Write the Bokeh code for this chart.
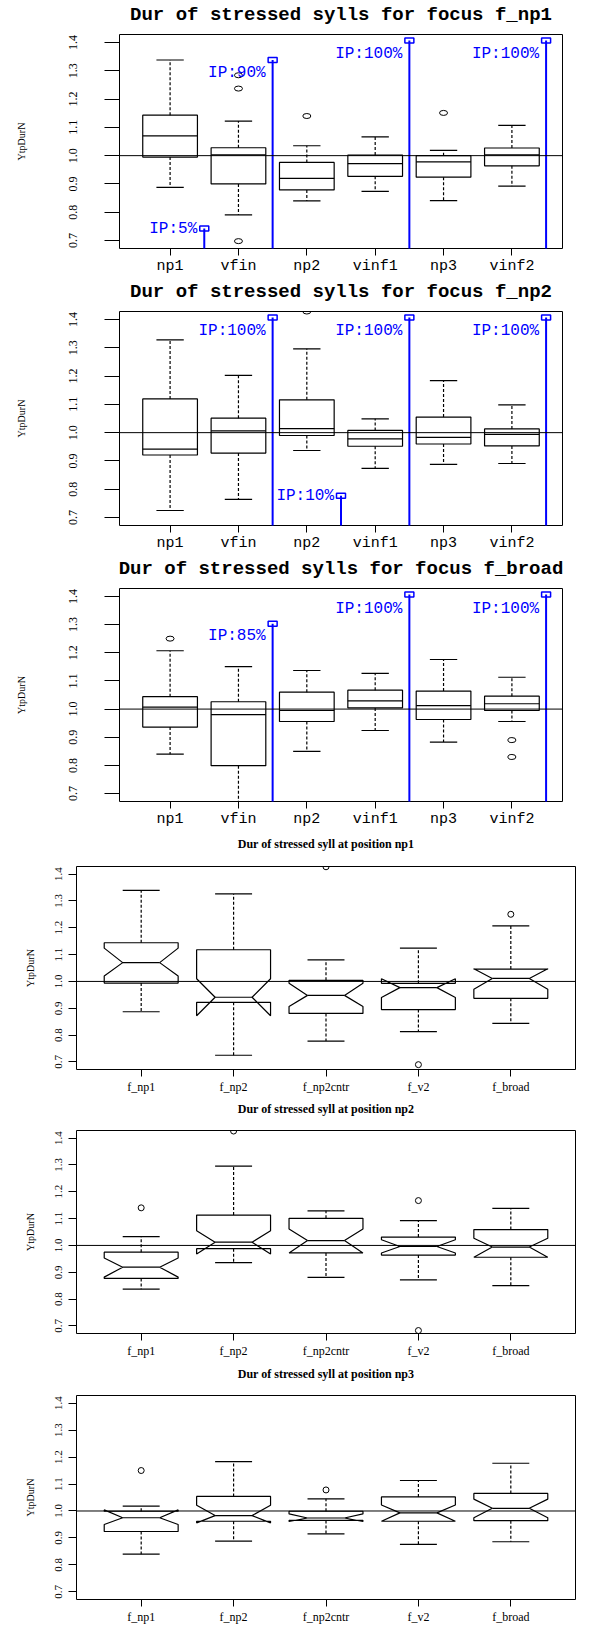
import math
from bokeh.plotting import figure
from bokeh.models import Span, FixedTicker, PrintfTickFormatter, LinearAxis
from bokeh.core.properties import value
from bokeh.embed import file_html
from bokeh.resources import INLINE

# ---------------- data ----------------
positions = ["np1", "vfin", "np2", "vinf1", "np3", "vinf2"]
focuses = ["f_np1", "f_np2", "f_np2cntr", "f_v2", "f_broad"]
y_ticks = [0.7, 0.8, 0.9, 1.0, 1.1, 1.2, 1.3, 1.4]

# focus f_np1 (by position)
fnp1_hi = [1.338, 1.122, 1.035, 1.066, 1.019, 1.107]
fnp1_q3 = [1.143, 1.028, 0.976, 1.002, 1.000, 1.027]
fnp1_med = [1.070, 1.003, 0.920, 0.972, 0.978, 1.003]
fnp1_q1 = [0.995, 0.900, 0.879, 0.927, 0.924, 0.964]
fnp1_lo = [0.888, 0.791, 0.840, 0.874, 0.841, 0.892]
fnp1_out_x = [2, 2, 2, 3, 5]
fnp1_out_y = [1.284, 1.237, 0.698, 1.140, 1.151]
fnp1_ip_x = [1.5, 2.5, 4.5, 6.5]
fnp1_ip_top = [0.743, 1.338, 1.407, 1.407]
fnp1_ip_text = ["IP:5%", "IP:90%", "IP:100%", "IP:100%"]
fnp1_ip_text_y = [0.740, 1.292, 1.358, 1.358]

# focus f_np2 (by position)
fnp2_hi = [1.328, 1.202, 1.296, 1.049, 1.184, 1.098]
fnp2_q3 = [1.119, 1.051, 1.116, 1.008, 1.055, 1.013]
fnp2_med = [0.942, 1.006, 1.014, 0.978, 0.983, 0.994]
fnp2_q1 = [0.921, 0.928, 0.990, 0.952, 0.960, 0.953]
fnp2_lo = [0.725, 0.764, 0.937, 0.874, 0.888, 0.891]
fnp2_out_x = [3]
fnp2_out_y = [1.428]
fnp2_ip_x = [2.5, 3.5, 4.5, 6.5]
fnp2_ip_top = [1.407, 0.777, 1.407, 1.407]
fnp2_ip_text = ["IP:100%", "IP:10%", "IP:100%", "IP:100%"]
fnp2_ip_text_y = [1.358, 0.776, 1.358, 1.358]

# focus f_broad (by position)
fbr_hi = [1.207, 1.151, 1.137, 1.127, 1.176, 1.113]
fbr_q3 = [1.044, 1.026, 1.060, 1.067, 1.064, 1.046]
fbr_med = [1.007, 0.980, 0.995, 1.029, 1.012, 1.019]
fbr_q1 = [0.936, 0.799, 0.956, 1.004, 0.963, 0.995]
fbr_lo = [0.840, 0.640, 0.850, 0.924, 0.883, 0.956]
fbr_out_x = [1, 6, 6]
fbr_out_y = [1.250, 0.890, 0.830]
fbr_ip_x = [2.5, 4.5, 6.5]
fbr_ip_top = [1.303, 1.407, 1.407]
fbr_ip_text = ["IP:85%", "IP:100%", "IP:100%"]
fbr_ip_text_y = [1.259, 1.357, 1.357]

# position np1 (by focus)
pnp1_hi = [1.339, 1.326, 1.080, 1.124, 1.207]
pnp1_q3 = [1.144, 1.118, 1.004, 0.993, 1.046]
pnp1_nhi = [1.124, 1.010, 0.993, 1.010, 1.047]
pnp1_med = [1.070, 0.941, 0.948, 0.977, 1.011]
pnp1_nlo = [1.020, 0.872, 0.907, 0.940, 0.971]
pnp1_q1 = [0.994, 0.922, 0.881, 0.895, 0.937]
pnp1_lo = [0.887, 0.725, 0.778, 0.813, 0.844]
pnp1_out_x = [3, 4, 5]
pnp1_out_y = [1.427, 0.690, 1.250]

# position np2 (by focus)
pnp2_hi = [1.033, 1.295, 1.129, 1.092, 1.138]
pnp2_q3 = [0.975, 1.113, 1.101, 1.031, 1.059]
pnp2_nhi = [0.953, 1.055, 1.061, 1.021, 1.027]
pnp2_med = [0.919, 1.012, 1.018, 0.996, 0.994]
pnp2_nlo = [0.882, 0.968, 0.972, 0.972, 0.956]
pnp2_q1 = [0.877, 0.988, 0.972, 0.964, 0.956]
pnp2_lo = [0.837, 0.936, 0.881, 0.872, 0.850]
pnp2_out_x = [1, 2, 4, 4]
pnp2_out_y = [1.140, 1.426, 1.167, 0.683]

# position np3 (by focus)
pnp3_hi = [1.018, 1.183, 1.045, 1.113, 1.177]
pnp3_q3 = [0.999, 1.054, 0.999, 1.052, 1.065]
pnp3_nhi = [1.004, 1.021, 0.989, 1.022, 1.044]
pnp3_med = [0.975, 0.983, 0.974, 0.993, 1.010]
pnp3_nlo = [0.950, 0.956, 0.961, 0.962, 0.975]
pnp3_q1 = [0.924, 0.962, 0.965, 0.962, 0.964]
pnp3_lo = [0.840, 0.888, 0.915, 0.876, 0.886]
pnp3_out_x = [1, 3]
pnp3_out_y = [1.150, 1.078]

# ---------------- layout ----------------
PAGE_W, PAGE_H = 576, 1613
SX, SY = PAGE_W / 592.0, PAGE_H / 1629.0
Y0, Y1 = 0.672, 1.428

# (fig top, fig bottom, frame top, frame bottom, frame left, frame right, title y, ylabel x)
geoms = [
    (0, 275, 32.3, 248.3, 122.7, 577.6, 11.7, 15),
    (275, 550, 306.7, 523.3, 122.7, 577.6, 286.7, 15),
    (550, 826, 582.3, 798.3, 122.7, 577.6, 561.7, 15),
    (826, 1096, 862.3, 1067.7, 78.1, 590.8, 839.3, 26),
    (1096, 1364, 1129.3, 1334.3, 78.1, 590.8, 1106.7, 26),
    (1364, 1629, 1396.7, 1602.7, 78.1, 590.8, 1375.0, 26),
]


def make_fig(geom, cats, title, style):
    b0, b1, ftop, fbot, fleft, fright, ty, ylx = geom
    top = round(b0 * SY)
    h = round(b1 * SY) - top
    ft = round(ftop * SY) - top
    fb = round(fbot * SY) - top
    fl = round(fleft * SX)
    fr = round(fright * SX)
    n = len(cats)
    mono = style == "top"
    x0, x1 = 0.5 - 0.04 * n, n + 0.5 + 0.04 * n
    p = figure(frame_width=fr - fl, frame_height=fb - ft,
               min_border_left=fl, min_border_right=PAGE_W - fr,
               min_border_top=ft, min_border_bottom=h - fb,
               x_range=(x0, x1), y_range=(Y0, Y1),
               output_backend="svg", toolbar_location=None,
               background_fill_color="white", border_fill_color="white",
               outline_line_color="black", outline_line_width=1)
    p.xgrid.grid_line_color = None
    p.ygrid.grid_line_color = None
    xa = p.below[0]
    ya = p.left[0]
    # x axis
    xa.ticker = FixedTicker(ticks=list(range(1, n + 1)))
    xa.major_label_overrides = {i + 1: c for i, c in enumerate(cats)}
    xa.axis_line_color = None
    xa.minor_tick_line_color = None
    xa.major_tick_in = 0
    xa.major_tick_out = 7
    xa.major_tick_line_color = "black"
    xa.major_label_standoff = 2 if mono else 3
    xa.major_label_text_font = "Liberation Mono" if mono else "Liberation Serif"
    xa.major_label_text_font_size = "15px" if mono else "12px"
    xa.major_label_text_color = "black"
    # y axis
    ya.ticker = FixedTicker(ticks=y_ticks)
    ya.formatter = PrintfTickFormatter(format="%.1f")
    ya.axis_line_color = None
    ya.minor_tick_line_color = None
    ya.major_tick_in = 0
    ya.major_tick_out = 15 if mono else 8
    ya.major_tick_line_color = "black"
    ya.major_label_orientation = "vertical"
    ya.major_label_standoff = 27 if mono else 6
    ya.major_label_text_font = "Liberation Serif"
    ya.major_label_text_font_size = "12px" if mono else "11px"
    ya.major_label_text_color = "black"
    ya.axis_label = "YtpDurN"
    ya.axis_label_text_font = "Liberation Serif"
    ya.axis_label_text_font_style = "normal"
    ya.axis_label_text_font_size = "10px"
    ya.axis_label_text_color = "black"
    ya.axis_label_standoff = 40 if mono else 17
    # title: the label of a tick-less axis above the frame
    tsize = 19 if mono else 12
    ty_local = ty * SY - top
    s = (ft - ty_local) - 0.56 * tsize
    s = max(0, min(s, ft - 1.17 * tsize - 0.5))
    tax = LinearAxis(ticker=FixedTicker(ticks=[]), axis_label=title,
                     axis_line_color=None, major_tick_line_color=None,
                     minor_tick_line_color=None, major_tick_in=0, major_tick_out=0,
                     minor_tick_in=0, minor_tick_out=0,
                     major_label_text_font_size="0px", major_label_standoff=0,
                     axis_label_standoff=round(s),
                     axis_label_text_font="Liberation Mono" if mono else "Liberation Serif",
                     axis_label_text_font_style="bold",
                     axis_label_text_font_size=f"{tsize}px",
                     axis_label_text_color="black")
    p.add_layout(tax, "above")
    # reference line
    p.add_layout(Span(location=1.0, dimension="width", line_color="black", line_width=1))
    return p


def plain_boxes(p, hi, q3, med, q1, lo, out_x, out_y):
    xs = list(range(1, len(hi) + 1))
    w = 0.4
    kw = dict(line_color="black", line_width=1.2)
    p.quad(left=[x - w for x in xs], right=[x + w for x in xs], bottom=q1, top=q3,
           fill_color=None, **kw)
    p.segment(x0=[x - w for x in xs], y0=med, x1=[x + w for x in xs], y1=med, **kw)
    p.segment(x0=xs, y0=q3, x1=xs, y1=hi, line_dash="3 2", **kw)
    p.segment(x0=xs, y0=q1, x1=xs, y1=lo, line_dash="3 2", **kw)
    p.segment(x0=[x - w / 2 for x in xs], y0=hi, x1=[x + w / 2 for x in xs], y1=hi, **kw)
    p.segment(x0=[x - w / 2 for x in xs], y0=lo, x1=[x + w / 2 for x in xs], y1=lo, **kw)
    p.ellipse(x=out_x, y=out_y, width=8, height=5, width_units="screen",
              height_units="screen", fill_color=None, line_color="black", line_width=1)


def ip_marks(p, ip_x, ip_top, ip_text, ip_text_y):
    p.segment(x0=ip_x, y0=[Y0 - 0.05] * len(ip_x), x1=ip_x, y1=ip_top,
              line_color="#0000ff", line_width=2)
    p.rect(x=ip_x, y=ip_top, width=9, height=5, width_units="screen",
           height_units="screen", fill_color=None, line_color="#0000ff", line_width=1.5)
    p.text(x=ip_x, y=ip_text_y, text=ip_text, text_align="right", text_baseline="middle",
           x_offset=-7, text_color="#0000ff", text_font=value("Liberation Mono"),
           text_font_size="16px")


def notched_boxes(p, hi, q3, nhi, med, nlo, q1, lo, out_x, out_y):
    xs = list(range(1, len(hi) + 1))
    w = 0.4
    kw = dict(line_color="black", line_width=1.2)
    pxs, pys = [], []
    for i, x in enumerate(xs):
        pxs.append([x - w, x - w, x - w / 2, x - w, x - w, x + w, x + w, x + w / 2, x + w, x + w])
        pys.append([q1[i], nlo[i], med[i], nhi[i], q3[i], q3[i], nhi[i], med[i], nlo[i], q1[i]])
    p.patches(xs=pxs, ys=pys, fill_color=None, **kw)
    p.segment(x0=[x - w / 2 for x in xs], y0=med, x1=[x + w / 2 for x in xs], y1=med, **kw)
    p.segment(x0=xs, y0=q3, x1=xs, y1=hi, line_dash="3 2", **kw)
    p.segment(x0=xs, y0=q1, x1=xs, y1=lo, line_dash="3 2", **kw)
    p.segment(x0=[x - w / 2 for x in xs], y0=hi, x1=[x + w / 2 for x in xs], y1=hi, **kw)
    p.segment(x0=[x - w / 2 for x in xs], y0=lo, x1=[x + w / 2 for x in xs], y1=lo, **kw)
    p.scatter(x=out_x, y=out_y, marker="circle", size=6, fill_color=None,
              line_color="black", line_width=1)


figs = []
p1 = make_fig(geoms[0], positions, "Dur of stressed sylls for focus f_np1", "top")
plain_boxes(p1, fnp1_hi, fnp1_q3, fnp1_med, fnp1_q1, fnp1_lo, fnp1_out_x, fnp1_out_y)
ip_marks(p1, fnp1_ip_x, fnp1_ip_top, fnp1_ip_text, fnp1_ip_text_y)
figs.append(p1)

p2 = make_fig(geoms[1], positions, "Dur of stressed sylls for focus f_np2", "top")
plain_boxes(p2, fnp2_hi, fnp2_q3, fnp2_med, fnp2_q1, fnp2_lo, fnp2_out_x, fnp2_out_y)
ip_marks(p2, fnp2_ip_x, fnp2_ip_top, fnp2_ip_text, fnp2_ip_text_y)
figs.append(p2)

p3 = make_fig(geoms[2], positions, "Dur of stressed sylls for focus f_broad", "top")
plain_boxes(p3, fbr_hi, fbr_q3, fbr_med, fbr_q1, fbr_lo, fbr_out_x, fbr_out_y)
ip_marks(p3, fbr_ip_x, fbr_ip_top, fbr_ip_text, fbr_ip_text_y)
figs.append(p3)

p4 = make_fig(geoms[3], focuses, "Dur of stressed syll at position np1", "bottom")
notched_boxes(p4, pnp1_hi, pnp1_q3, pnp1_nhi, pnp1_med, pnp1_nlo, pnp1_q1, pnp1_lo,
              pnp1_out_x, pnp1_out_y)
figs.append(p4)

p5 = make_fig(geoms[4], focuses, "Dur of stressed syll at position np2", "bottom")
notched_boxes(p5, pnp2_hi, pnp2_q3, pnp2_nhi, pnp2_med, pnp2_nlo, pnp2_q1, pnp2_lo,
              pnp2_out_x, pnp2_out_y)
figs.append(p5)

p6 = make_fig(geoms[5], focuses, "Dur of stressed syll at position np3", "bottom")
notched_boxes(p6, pnp3_hi, pnp3_q3, pnp3_nhi, pnp3_med, pnp3_nlo, pnp3_q1, pnp3_lo,
              pnp3_out_x, pnp3_out_y)
figs.append(p6)

# separate roots, stacked on the page (no cross-plot frame alignment)
open("out.html", "w").write(file_html(figs, INLINE))
